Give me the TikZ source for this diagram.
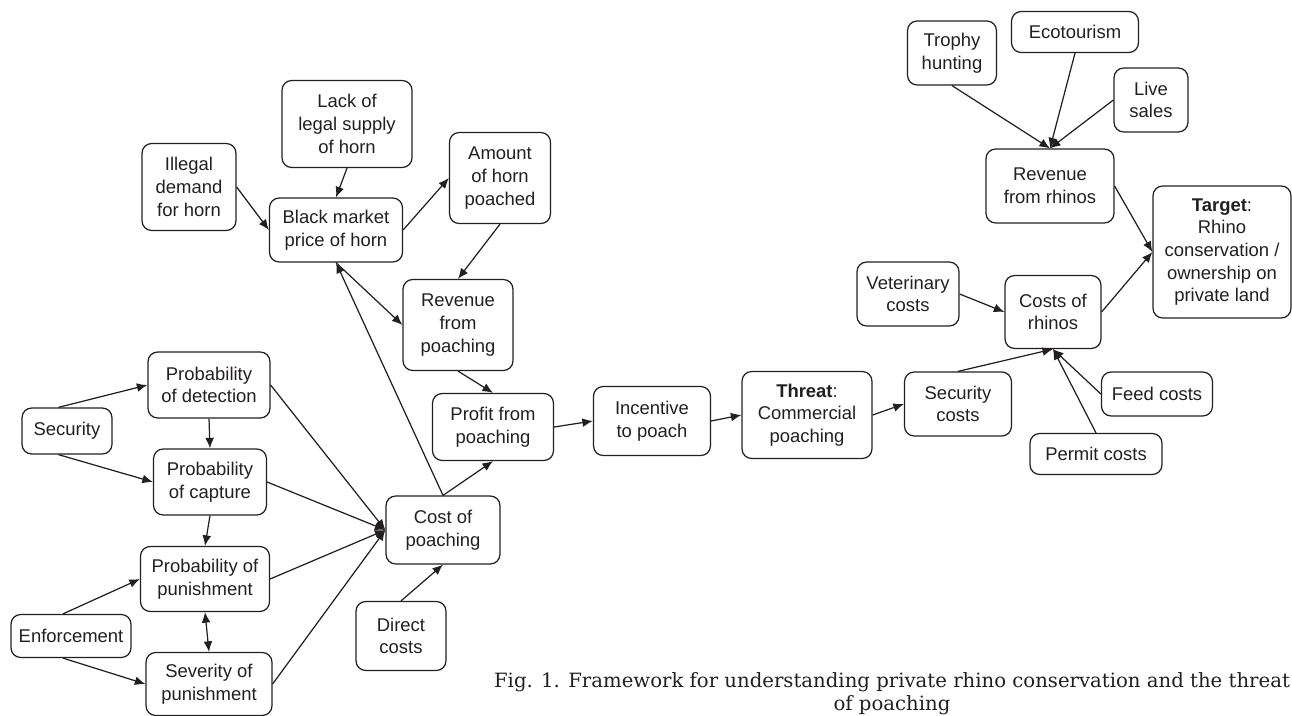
\documentclass[tikz,border=0pt]{standalone}
\usepackage{fontspec}
\setmainfont{Liberation Sans}
\newfontfamily\capfont{DejaVu Serif}
\usepackage{xcolor}
\usetikzlibrary{arrows.meta}
\definecolor{ink}{RGB}{35,31,32}

\begin{document}
\begin{tikzpicture}[x=0.02cm, y=-0.02cm,
    box/.style={draw=ink, line width=0.7pt, rounded corners=5.5pt, align=center,
      inner sep=1pt, text=ink, font=\fontsize{10.5}{12.9}\selectfont},
    link/.style={draw=ink, line width=0.7pt, -{Latex[length=6pt,width=5pt]}},
    twoway/.style={draw=ink, line width=0.7pt, {Latex[length=6pt,width=5pt]}-{Latex[length=6pt,width=5pt]}}]
  \useasboundingbox (0,0) rectangle (1292,716);

  % Horn market
  \node[box, minimum width=1.88cm, minimum height=1.74cm] (demand) at (189,187) {Illegal\\demand\\for horn};
  \node[box, minimum width=2.60cm, minimum height=1.74cm] (supply) at (347,124) {Lack of\\legal supply\\of horn};
  \node[box, minimum width=2.66cm, minimum height=1.28cm] (price) at (336,230) {Black market\\price of horn};
  \node[box, minimum width=2.02cm, minimum height=1.82cm] (amount) at (500,178) {Amount\\of horn\\poached};
  \node[box, minimum width=2.20cm, minimum height=1.82cm] (revpoach) at (458,325) {Revenue\\from\\poaching};
  \node[box, minimum width=2.42cm, minimum height=1.34cm] (profit) at (493,427) {Profit from\\poaching};
  \node[box, minimum width=2.34cm, minimum height=1.38cm] (incentive) at (652,421) {Incentive\\to poach};
  \node[box, minimum width=2.60cm, minimum height=1.74cm] (threat) at (807,415) {\textbf{Threat}:\\Commercial\\poaching};

  % Law enforcement side
  \node[box, minimum width=1.80cm, minimum height=0.92cm] (security) at (67,431) {Security};
  \node[box, minimum width=2.40cm, minimum height=0.86cm] (enforce) at (71,636) {Enforcement};
  \node[box, minimum width=2.44cm, minimum height=1.32cm] (detect) at (209,385) {Probability\\of detection};
  \node[box, minimum width=2.26cm, minimum height=1.32cm] (capture) at (210,482) {Probability\\of capture};
  \node[box, minimum width=2.58cm, minimum height=1.30cm] (punish) at (205,579) {Probability of\\punishment};
  \node[box, minimum width=2.52cm, minimum height=1.26cm] (severity) at (209,684) {Severity of\\punishment};
  \node[box, minimum width=2.28cm, minimum height=1.36cm] (cost) at (443,530) {Cost of\\poaching};
  \node[box, minimum width=1.80cm, minimum height=1.38cm] (direct) at (401,636) {Direct\\costs};

  % Rhino owner side
  \node[box, minimum width=2.14cm, minimum height=1.28cm] (seccost) at (958,404) {Security\\costs};
  \node[box, minimum width=1.92cm, minimum height=1.46cm] (rhinocost) at (1053,312) {Costs of\\rhinos};
  \node[box, minimum width=2.04cm, minimum height=1.28cm] (vet) at (908,294) {Veterinary\\costs};
  \node[box, minimum width=2.22cm, minimum height=0.88cm] (feed) at (1157,394) {Feed costs};
  \node[box, minimum width=2.64cm, minimum height=0.82cm] (permit) at (1096,454) {Permit costs};
  \node[box, minimum width=2.56cm, minimum height=1.48cm] (revrhino) at (1050,186) {Revenue\\from rhinos};
  \node[box, minimum width=2.76cm, minimum height=2.64cm] (target) at (1222,252) {\textbf{Target}:\\Rhino\\conservation /\\ownership on\\private land};
  \node[box, minimum width=1.78cm, minimum height=1.28cm] (trophy) at (952,53) {Trophy\\hunting};
  \node[box, minimum width=2.54cm, minimum height=0.82cm] (eco) at (1075,32) {Ecotourism};
  \node[box, minimum width=1.48cm, minimum height=1.28cm] (live) at (1151,100) {Live\\sales};

  % Arrows
  \draw[link] (demand.east) -- (price.west);
  \draw[link] (supply.south) -- (price.north);
  \draw[link] (price.east) -- (amount.west);
  \draw[link] (cost.north) -- (price.south);
  \draw[link] (price.south) -- (revpoach.west);
  \draw[link] (amount.south) -- (revpoach.north);
  \draw[link] (revpoach.south) -- (profit.north);
  \draw[link] (cost.north) -- (profit.south);
  \draw[link] (profit.east) -- (incentive.west);
  \draw[link] (incentive.east) -- (threat.west);
  \draw[link] (threat.east) -- (seccost.west);

  \draw[link] (security.110) -- (detect.west);
  \draw[link] (security.250) -- (capture.west);
  \draw[link] (detect.south) -- (capture.north);
  \draw[link] (capture.south) -- (punish.north);
  \draw[twoway] (punish.south) -- (severity.north);
  \draw[link] (enforce.110) -- (punish.west);
  \draw[link] (enforce.250) -- (severity.west);
  \draw[link] (detect.east) -- (cost.west);
  \draw[link] (capture.east) -- (cost.west);
  \draw[link] (punish.east) -- (cost.west);
  \draw[link] (severity.east) -- (cost.west);
  \draw[link] (direct.north) -- (cost.south);

  \draw[link] (seccost.north) -- (rhinocost.south);
  \draw[link] (vet.east) -- (rhinocost.west);
  \draw[link] (feed.west) -- (rhinocost.south);
  \draw[link] (permit.north) -- (rhinocost.south);
  \draw[link] (rhinocost.east) -- (target.west);
  \draw[link] (revrhino.east) -- (target.west);
  \draw[link] (trophy.south) -- (revrhino.north);
  \draw[link] (eco.south) -- (revrhino.north);
  \draw[link] (live.west) -- (revrhino.north);

  % Caption
  \node[align=center, text=ink, inner sep=0pt, font=\capfont\fontsize{11.2}{13.2}\selectfont] (caption) at (892,694)
    {Fig. 1. Framework for understanding private rhino conservation and the threat\\of poaching};
\end{tikzpicture}
\end{document}
